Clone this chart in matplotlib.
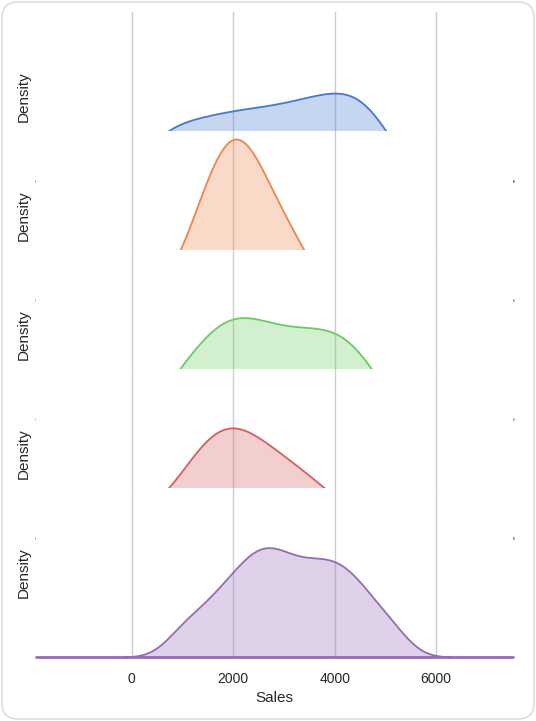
import numpy as np
import matplotlib
matplotlib.use("Agg")
import matplotlib.pyplot as plt
from matplotlib.patches import FancyBboxPatch
import seaborn as sns

# sales samples per group (one ridge each, top to bottom)
groups = ["North", "South", "East", "West", "Central"]
sales_north = [440, 840, 1220, 1580, 1910, 2230, 2540, 2850, 3140, 3430,
               3690, 3950, 4200, 4440, 4680, 4980]
sales_south = [200, 1050, 1310, 1480, 1630, 1760, 1860, 1970, 2070, 2170,
               2290, 2410, 2530, 2690, 2880, 3090, 3410, 4300, 4800]
sales_east = [860, 1260, 1540, 1770, 1990, 2200, 2420, 2650, 2890, 3140,
              3390, 3640, 3890, 4140, 4400, 4780]
sales_west = [50, 750, 1080, 1310, 1500, 1670, 1820, 1970, 2130, 2290,
              2480, 2680, 2890, 3120, 3390, 3700, 4130, 5100, 5700]
sales_central = [1000, 1450, 1760, 2010, 2220, 2400, 2560, 2720, 2880, 3060,
                 3260, 3470, 3660, 3850, 4040, 4230, 4440, 4710, 5130]
all_sales = [sales_north, sales_south, sales_east, sales_west, sales_central]
xticks = [0, 2000, 4000, 6000]
xrange_ = (-1890, 7516)

sns.set_style("whitegrid")
plt.rcParams["font.family"] = ["Liberation Sans", "DejaVu Sans"]
colors = sns.color_palette("muted", 5)

W, H = 536, 721
fig = plt.figure(figsize=(W / 100, H / 100), dpi=100)

# ridge layout: each axes is 169 px tall, stepped by 119 px
left, right = 36 / W, 513 / W
ax_h = 169 / H
step = 119 / H
bottom0 = 1 - 657 / H

axes = []
for i, (name, vals) in enumerate(zip(groups, all_sales)):
    b = bottom0 + (len(groups) - 1 - i) * step
    kw = {}
    if axes:
        kw = dict(sharex=axes[0], sharey=axes[0])
    ax = fig.add_axes([left, b, right - left, ax_h], **kw)
    ax.set_facecolor("white")
    sns.kdeplot(x=vals, ax=ax, fill=True, alpha=0.3, color=colors[i],
                linewidth=1.3, bw_adjust=0.6)
    ax.axhline(0, color=colors[i], lw=2, clip_on=False)
    ax.set_yticks([])
    ax.grid(axis="y", visible=False)
    ax.grid(axis="x", color="#cccccc", lw=1)
    for s in ax.spines.values():
        s.set_visible(False)
    ax.set_ylabel("Density", fontsize=11, visible=True)
    ax.set_xlabel("")
    ax.tick_params(axis="x", length=0, labelbottom=False)
    axes.append(ax)

axes[-1].set_xlim(*xrange_)
axes[-1].set_xticks(xticks)
axes[-1].tick_params(axis="x", labelbottom=True, labelsize=10, pad=11)
axes[-1].set_xlabel("Sales", fontsize=11, labelpad=3.5, visible=True)

card = FancyBboxPatch((0.02, 0.02), W / 100 - 0.04, H / 100 - 0.04,
                      boxstyle="round,pad=0,rounding_size=0.16",
                      transform=fig.dpi_scale_trans, facecolor="none",
                      edgecolor="#dddddd", lw=1.2, zorder=10)
fig.patches.append(card)

fig.savefig("out.png", dpi=100)
